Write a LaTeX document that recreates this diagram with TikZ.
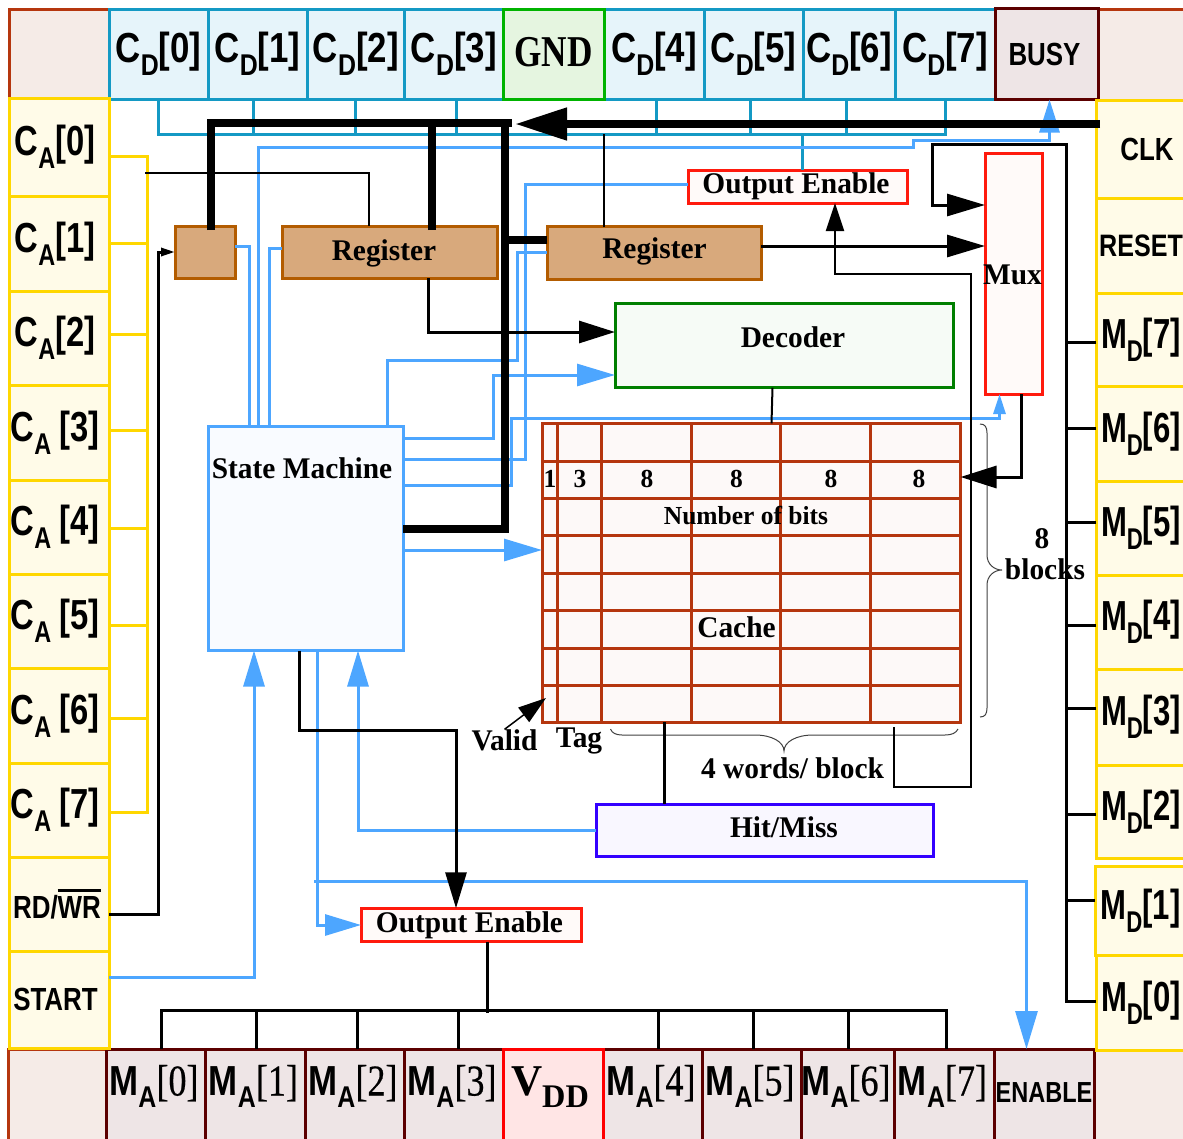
\documentclass[tikz,border=0pt]{standalone}
\usepackage{fontspec}
\usepackage{tikz}
\usetikzlibrary{arrows.meta,calc}
\newfontfamily\pinfont[FakeStretch=0.83]{Liberation Sans}
\newfontfamily\cafont[FakeStretch=0.78]{Liberation Sans}
\newfontfamily\mdfont[FakeStretch=0.74]{Liberation Sans}
\newfontfamily\narrowfont[FakeStretch=0.81]{Liberation Sans}
\newfontfamily\brkfont[FakeStretch=0.8]{Liberation Serif}
\newfontfamily\heavybrk[FakeStretch=0.82,FakeBold=0.5]{Liberation Serif}
\newfontfamily\boxfont[FakeStretch=0.98]{Liberation Serif}
\definecolor{cornerfill}{HTML}{F5EBE7}
\definecolor{cornerline}{HTML}{B5360E}
\definecolor{cdfill}{HTML}{E6F4FA}
\definecolor{cdline}{HTML}{1499C4}
\definecolor{gndfill}{HTML}{E5F5E0}
\definecolor{gndline}{HTML}{00B300}
\definecolor{mafill}{HTML}{EEE5E6}
\definecolor{maline}{HTML}{5C0000}
\definecolor{vddfill}{HTML}{FFE5E5}
\definecolor{pinfill}{HTML}{FFFBE8}
\definecolor{pinline}{HTML}{FFD700}
\definecolor{sigblue}{HTML}{4DA6FF}
\definecolor{smfill}{HTML}{F9FBFF}
\definecolor{regfill}{HTML}{D8A97C}
\definecolor{regline}{HTML}{B35C00}
\definecolor{oeline}{HTML}{FF1A0D}
\definecolor{oefill}{HTML}{FFFAF9}
\definecolor{decline}{HTML}{007F00}
\definecolor{decfill}{HTML}{F6FBF6}
\definecolor{hitline}{HTML}{3300FF}
\definecolor{hitfill}{HTML}{F9F7FF}
\definecolor{cachefill}{HTML}{FDF9F8}
\newcommand{\pinsub}[3]{#1\raisebox{-13pt}{\fontsize{30}{30}\selectfont #2}#3}
\newcommand{\smallpin}[1]{{\narrowfont\bfseries\fontsize{32}{32}\selectfont #1}}
\newcommand{\barred}[1]{\leavevmode\vbox{\hrule height 3pt \kern 5pt\hbox{#1}}}

\tikzset{
    cellbox/.style={draw,line width=3pt,inner sep=0pt,outer sep=0pt,align=center,
        font=\pinfont\bfseries\fontsize{42}{42}\selectfont},
    boxnode/.style={draw,line width=3pt,inner sep=0pt,outer sep=0pt,align=center,
        font=\boxfont\bfseries\fontsize{30}{30}\selectfont},
    plaintext/.style={inner sep=0pt,outer sep=0pt,font=\boxfont\bfseries\fontsize{30}{30}\selectfont},
    bittext/.style={inner sep=0pt,outer sep=0pt,font=\boxfont\bfseries\fontsize{26}{26}\selectfont},
    regbox/.style={boxnode,draw=regline,fill=regfill},
    oebox/.style={boxnode,draw=oeline,fill=oefill},
    wireblack/.style={black,line width=3pt},
    wirethin/.style={black,line width=2pt},
    wireblue/.style={sigblue,line width=3pt},
    wireteal/.style={cdline,line width=3pt},
    wireyellow/.style={pinline,line width=3pt},
    wirebus/.style={black,line width=8pt},
    wiretip/.style 2 args={-{Triangle[length=#1pt,width=#2pt]}},
    bracket/.style={black!75,line width=1pt}
}

\begin{document}
\begin{tikzpicture}[x=1pt,y=-1pt]
    \useasboundingbox (0,0) rectangle (1183,1138);

    % Corners
    \foreach \n/\xa/\ya/\xb/\yb in {cnrA/9/9/109/99,cnrB/1098/9/1192/100,cnrC/8/1049/106/1146,cnrD/1094/1049/1192/1146} {
        \pgfmathsetmacro\cw{\xb-\xa}
        \pgfmathsetmacro\ch{\yb-\ya}
        \pgfmathsetmacro\cx{(\xa+\xb)/2}
        \pgfmathsetmacro\cy{(\ya+\yb)/2}
        \node[cellbox,draw=cornerline,fill=cornerfill,minimum width=\cw pt,minimum height=\ch pt] (\n) at (\cx,\cy) {};
    }

    % Top row
    \foreach \i/\xa/\xb in {0/109/208,1/208/307,2/307/404.5,3/404.5/503,4/604/704,5/704/803,6/803/895,7/895/995} {
        \pgfmathsetmacro\cw{\xb-\xa}
        \pgfmathsetmacro\cx{(\xa+\xb)/2}
        \node[cellbox,draw=cdline,fill=cdfill,minimum width=\cw pt,minimum height=90pt] (cd\i) at (\cx,54) {\pinsub{C}{D}{[\i]}};
    }
    \node[boxnode,draw=gndline,fill=gndfill,minimum width=101pt,minimum height=90pt,
        font=\brkfont\bfseries\fontsize{44}{44}\selectfont] (gnd) at (553.5,54) {\raisebox{4pt}{GND}};
    \node[cellbox,draw=maline,fill=mafill,minimum width=103pt,minimum height=91pt] (busy) at (1046.5,54) {\hspace*{-4pt}\smallpin{BUSY}};

    % Bottom row
    \foreach \i/\xa/\xb in {0/106/205,1/205/305,2/305/404,3/404/503,4/603/702,5/702/801,6/801/894,7/894/994} {
        \pgfmathsetmacro\cw{\xb-\xa}
        \pgfmathsetmacro\cx{(\xa+\xb)/2}
        \node[cellbox,draw=maline,fill=mafill,minimum width=\cw pt,minimum height=97pt,text depth=48.5pt,text height=48.5pt] (ma\i) at (\cx,1097.5) {\hspace*{-3pt}\raisebox{2pt}{M\raisebox{-12pt}{\fontsize{30}{30}\selectfont A}{\heavybrk\mdseries\fontsize{44}{44}\selectfont[\i]}}};
    }
    \node[cellbox,draw=red,fill=vddfill,minimum width=100pt,minimum height=97pt,text depth=48.5pt,text height=48.5pt,
        font=\boxfont\bfseries\fontsize{44}{44}\selectfont] (vdd) at (553,1097.5) {\hspace*{-6pt}\raisebox{2pt}{V\raisebox{-12pt}{\fontsize{33}{33}\selectfont DD}}};
    \node[cellbox,draw=maline,fill=mafill,minimum width=100pt,minimum height=97pt,text depth=48.5pt,text height=48.5pt] (enable) at (1044,1097.5) {\raisebox{-5pt}{\narrowfont\bfseries\fontsize{29}{29}\selectfont ENABLE}};

    % Left column
    \foreach \i/\ya/\yb/\gap/\lift in {0/98/196/0/3,1/196/291/0/-5,2/291/385/0/-5,3/385/480/8/-1,4/480/574/8/-5,5/574/668/8/-4,6/668/763/8/-5,7/763/857/8/-5} {
        \pgfmathsetmacro\ch{\yb-\ya}
        \pgfmathsetmacro\cy{(\ya+\yb)/2}
        \node[cellbox,draw=pinline,fill=pinfill,minimum width=100pt,minimum height=\ch pt,font=\cafont\bfseries\fontsize{42}{42}\selectfont] (ca\i) at (59,\cy) {\hspace*{-8pt}\raisebox{\lift pt}{\pinsub{C}{A}{\hspace{\gap pt}[\i]}}};
    }
    \node[cellbox,draw=pinline,fill=pinfill,minimum width=100pt,minimum height=94pt] (rdwr) at (59,904) {\hspace*{-4pt}\smallpin{RD/\barred{WR}}};
    \node[cellbox,draw=pinline,fill=pinfill,minimum width=100pt,minimum height=97pt] (start) at (59,999.5) {\hspace*{-7pt}\raisebox{-2pt}{\smallpin{START}}};

    % Right column
    \node[cellbox,draw=pinline,fill=pinfill,minimum width=96pt,minimum height=98pt] (clk) at (1144,149) {\hspace*{6pt}\smallpin{CLK}};
    \node[cellbox,draw=pinline,fill=pinfill,minimum width=96pt,minimum height=95pt] (reset) at (1144,245.5) {\hspace*{-6pt}{\narrowfont\bfseries\fontsize{31}{31}\selectfont RESET}};
    \foreach \i/\ya/\yb/\xa in {7/293/386/1096,6/386/481/1096,5/481/575/1096,4/575/669/1096,3/669/765/1096,2/765/858/1096,1/866/955/1095,0/955/1050/1096} {
        \pgfmathsetmacro\ch{\yb-\ya}
        \pgfmathsetmacro\cy{(\ya+\yb)/2}
        \pgfmathsetmacro\cw{1186-\xa}
        \pgfmathsetmacro\cx{(1186+\xa)/2}
        \node[cellbox,draw=pinline,fill=pinfill,minimum width=\cw pt,minimum height=\ch pt,font=\mdfont\bfseries\fontsize{42}{42}\selectfont] (md\i) at (\cx,\cy) {\pinsub{M}{D}{[\i]}};
    }

    % Blocks
    \node[regbox,minimum width=60pt,minimum height=52pt] (ctrl) at (205,252) {};
    \node[regbox,minimum width=215pt,minimum height=52pt] (regA) at (389.5,252) {};
    \node[plaintext] (regAtext) at (384,253) {Register};
    \node[regbox,minimum width=214pt,minimum height=53pt] (regB) at (654,253) {};
    \node[plaintext] (regBtext) at (654.5,251) {Register};
    \node[oebox,minimum width=219.5pt,minimum height=33pt] (oeTop) at (798,186.5) {\hspace*{-4pt}\raisebox{-2pt}{Output Enable}};
    \node[oebox,minimum width=220pt,minimum height=33.5pt] (oeBot) at (471,925) {\hspace*{-3pt}\raisebox{-1pt}{Output Enable}};
    \node[boxnode,draw=decline,fill=decfill,minimum width=338pt,minimum height=84.5pt] (decoder) at (784,345.5) {};
    \node[plaintext] (decodertext) at (793,337) {Decoder};
    \node[boxnode,draw=oeline,fill=oefill,minimum width=57pt,minimum height=241pt] (mux) at (1013.5,273.5) {};
    \node[plaintext] (muxtext) at (1012.5,275) {Mux};
    \node[boxnode,draw=sigblue,fill=smfill,minimum width=195pt,minimum height=224pt] (sm) at (305.5,538.5) {};
    \node[plaintext] (smtext) at (302,468) {State Machine};
    \node[boxnode,draw=hitline,fill=hitfill,minimum width=337.5pt,minimum height=52pt] (hitmiss) at (765,830) {};
    \node[plaintext] (hitmisstext) at (784,827) {Hit/Miss};

    % Cache
    \node[boxnode,draw=cornerline,fill=cachefill,minimum width=418.5pt,minimum height=299pt] (cache) at (751.25,572.8) {};
    \foreach \x in {557.5,601.5,691.5,780,870.5}
        \draw[cornerline,line width=3pt] (cache.north -| \x,0) -- (cache.south -| \x,0);
    \foreach \y in {461,498.5,535.5,573,610.5,648,685.5}
        \draw[cornerline,line width=3pt] (cache.west |- 0,\y) -- (cache.east |- 0,\y);
    \foreach \n/\x/\lbl in {bitV/550/1,bitT/580/3,bitW/647/8,bitX/736.5/8,bitY/831/8,bitZ/919/8}
        \node[bittext] (\n) at (\x,479) {\lbl};
    \node[bittext] (bitstext) at (746,515.5) {Number of bits};
    \node[plaintext] (cachetext) at (736.5,627) {Cache};
    \node[plaintext] (validtext) at (504.5,740) {Valid};
    \node[plaintext] (tagtext) at (579,741) {Tag};
    \node[plaintext] (wordstext) at (792.5,768) {4 words/ block};
    \node[plaintext] (eighttext) at (1042,539) {8};
    \node[plaintext] (blockstext) at (1045,569) {blocks};

    % Braces
    \draw[bracket] (980,424) .. controls (985,424) and (987,427) .. (987,433) -- (987,555)
        .. controls (987,564) and (994,570) .. (1002,570) .. controls (994,570) and (987,576) .. (987,585)
        -- (987,708) .. controls (987,714) and (985,717) .. (980,717);
    \draw[bracket] (610.5,729) .. controls (612,733) and (616,735) .. (622,735) -- (755,735)
        .. controls (772,735) and (784,742) .. (784,751) .. controls (784,742) and (796,735) .. (813,735)
        -- (945,735) .. controls (952,735) and (956,733) .. (958,729);

    % Named free ends
    \coordinate (selEnd) at (145,173);
    \coordinate (cdTap) at (604,134);
    \coordinate (maTap) at (487,1013);
    \coordinate (enTap) at (314,881);
    \coordinate (hitTap) at (894,727);
    \coordinate (validTip) at (546,698);

    % Yellow address lines
    \draw[wireyellow] (ca0.east |- 0,156) -- (147,156) -- (147,812.5) -- (ca7.east |- 0,812.5);
    \foreach \n/\y in {ca1/243.5,ca2/334,ca3/430,ca4/528,ca5/625,ca6/718}
        \draw[wireyellow] (\n.east |- 0,\y) -- (147,\y);

    % Teal data lines
    \draw[wireteal] (cd0.south) -- (158.5,134) -- (945,134) -- (cd7.south);
    \foreach \n/\x in {cd1/253,cd2/355,cd3/456.5,cd4/656.5,cd5/750.5,cd6/846}
        \draw[wireteal] (\n.south -| \x,0) -- (\x,134);
    \draw[wireteal] (oeTop.north -| 802.5,0) -- (802.5,134);

    % Blue control lines
    \draw[wireblue,wiretip={36}{21}] (start.east |- 0,977) -- (254,977) -- (sm.south -| 254,0);
    \draw[wireblue,wiretip={36}{21}] (hitmiss.west |- 0,830.5) -- (358,830.5) -- (sm.south -| 358,0);
    \draw[wireblue,wiretip={36}{21}] (sm.south -| 317,0) -- (317,925) -- (oeBot.west |- 0,925);
    \draw[wireblue,wiretip={38}{22}] (enTap) -- (1026.5,881) -- (enable.north -| 1026.5,0);
    \draw[wireblue] (ctrl.east |- 0,246.5) -- (249.5,246.5) -- (sm.north -| 249.5,0);
    \draw[wireblue,wiretip={33}{20}] (sm.north -| 258.5,0) -- (258.5,147) -- (913,147) -- (913,140) -- (1049.5,140) -- (busy.south -| 1049.5,0);
    \draw[wireblue] (regA.west |- 0,248) -- (269.5,248) -- (sm.north -| 269.5,0);
    \draw[wireblue] (sm.north -| 387,0) -- (387,360) -- (517.5,360) -- (517.5,252) -- (regB.west |- 0,252);
    \draw[wireblue,wiretip={38}{22}] (sm.east |- 0,438) -- (493,438) -- (493,375) -- (decoder.west |- 0,375);
    \draw[wireblue] (sm.east |- 0,459) -- (525.5,459) -- (525.5,184) -- (oeTop.west |- 0,184);
    \draw[wireblue,wiretip={20}{12}] (sm.east |- 0,485) -- (511,485) -- (511,418) -- (999.5,418) -- (mux.south -| 999.5,0);
    \draw[wireblue,wiretip={38}{22}] (sm.east |- 0,550) -- (cache.west |- 0,550);

    % Black signal lines
    \draw[wirethin] (selEnd) -- (368.5,173) -- (regA.north -| 368.5,0);
    \draw[wireblack,wiretip={14}{8}] (rdwr.east |- 0,914) -- (158,914) -- (158,252) -- (ctrl.west |- 0,252);
    \draw[wireblack,wiretip={36}{22}] (regA.south -| 428.5,0) -- (428.5,332) -- (decoder.west |- 0,332);
    \draw[wirethin] (regB.north -| 604,0) -- (cdTap);
    \draw[wireblack,wiretip={38}{22}] (regB.east |- 0,246) -- (mux.west |- 0,246);
    \draw[wireblack,wiretip={38}{22}] (md0.west |- 0,1001) -- (1066,1001) -- (1066,144) -- (932,144) -- (932,205) -- (mux.west |- 0,205);
    \foreach \n/\y in {md7/342,md6/428,md5/522,md4/625,md3/708,md2/814,md1/900}
        \draw[wireblack] (\n.west |- 0,\y) -- (1066,\y);
    \draw[wirethin,wiretip={28}{18}] (hitTap) -- (894,786.5) -- (971,786.5) -- (971,274) -- (835,274) -- (oeTop.south -| 835,0);
    \draw[wireblack,wiretip={36}{22}] (mux.south -| 1021,0) -- (1021,477) -- (cache.east |- 0,477);
    \draw[wirethin] (decoder.south -| 772.5,0) -- (cache.north -| 771.5,0);
    \draw[wireblack] (cache.south -| 664,0) -- (hitmiss.north -| 664,0);
    \draw[wireblack,wiretip={36}{21}] (sm.south -| 299,0) -- (299,730) -- (456,730) -- (oeBot.north -| 456,0);
    \draw[wireblack] (oeBot.south -| 487,0) -- (maTap);
    \draw[wireblack] (ma0.north -| 161.5,0) -- (161.5,1010.5) -- (946.5,1010.5) -- (ma7.north -| 946.5,0);
    \foreach \n/\x in {ma1/256,ma2/357.5,ma3/458,ma4/658.5,ma5/753.5,ma6/848.5}
        \draw[wireblack] (\n.north -| \x,0) -- (\x,1010.5);
    \draw[black,line width=1.5pt,wiretip={28}{18}] (validtext.north) -- (validTip);

    % Thick buses
    \draw[wirebus,wiretip={52}{31},shorten <=-4pt] (clk.west |- 0,124) -- (515,124);
    \draw[wirebus,shorten <=-4pt] (ctrl.north -| 211,0) -- (211,123) -- (512,123);
    \draw[wirebus,shorten <=-4pt] (regA.north -| 432,0) -- (432,123);
    \draw[wirebus] (505,123) -- (505,529) -- (sm.east |- 0,529);
    \draw[wirebus] (regB.west |- 0,240) -- (505,240);
\end{tikzpicture}
\end{document}
